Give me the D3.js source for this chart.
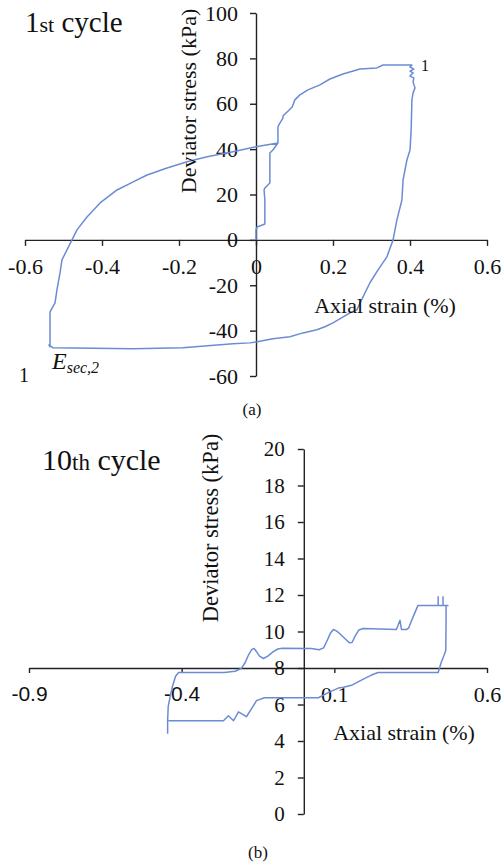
<!DOCTYPE html>
<html><head><meta charset="utf-8">
<script src="https://cdn.jsdelivr.net/npm/d3@7"></script>
<style>
body{margin:0;background:#fff}
svg{display:block}
text{font-family:"Liberation Serif","Times New Roman",serif;fill:#111}
</style>
</head><body>
<svg id="chart" width="503" height="866"></svg>
<script>
// ---------- Data: 1st cycle ----------
const c1Strain = [0, 0, 0.003, 0.023, 0.023, 0.021, 0.023, 0.036, 0.036, 0.044, 0.057, 0.057, 0.062, 0.070, 0.070, 0.094, 0.101, 0.114, 0.135, 0.166, 0.192, 0.226, 0.270, 0.314, 0.330, 0.392, 0.405, 0.400, 0.410, 0.400, 0.408, 0.400, 0.410, 0.408, 0.413, 0.408, 0.405, 0.403, 0.400, 0.392, 0.382, 0.379, 0.366, 0.356, 0.340, 0.317, 0.296, 0.278, 0.262, 0.244, 0.200, 0.179, 0.158, 0.122, 0.088, 0.044, 0.003, -0.016, -0.060, -0.190, -0.319, -0.527, -0.538, -0.535, -0.535, -0.522, -0.517, -0.509, -0.504, -0.491, -0.478, -0.465, -0.439, -0.405, -0.361, -0.319, -0.283, -0.231, -0.179, -0.127, -0.060, 0, 0.057];
const c1Stress = [0, 4.4, 5.7, 7.0, 17.6, 22.0, 22.9, 25.1, 38.3, 39.6, 42.7, 49.8, 51.5, 53.7, 54.6, 58.6, 61.7, 63.9, 66.1, 68.3, 70.9, 73.1, 75.3, 75.8, 77.1, 77.1, 77.1, 76.2, 75.3, 74.4, 73.6, 72.2, 71.4, 69.6, 67.0, 64.8, 61.7, 48.5, 39.6, 35.2, 26.4, 17.6, 8.8, 0, -7.5, -13.2, -18.9, -25.1, -30.8, -32.2, -36.6, -38.3, -39.6, -41.0, -42.7, -43.6, -44.9, -45.4, -45.8, -47.6, -48.0, -47.6, -46.3, -47.1, -31.7, -27.8, -22.0, -14.5, -8.8, -4.4, 0, 4.4, 10.1, 16.3, 22.0, 25.6, 28.6, 31.7, 34.4, 36.6, 38.8, 41.0, 42.7];
const c1XTicks = [-0.6, -0.4, -0.2, 0, 0.2, 0.4, 0.6];
const c1YTicks = [-60, -40, -20, 0, 20, 40, 60, 80, 100];

// ---------- Data: 10th cycle ----------
const c10Strain = [-0.446, -0.446, -0.444, -0.438, -0.430, -0.420, -0.410, -0.330, -0.260, -0.225, -0.205, -0.192, -0.180, -0.170, -0.163, -0.155, -0.145, -0.132, -0.118, -0.100, -0.085, -0.070, 0.025, 0.050, 0.065, 0.075, 0.087, 0.097, 0.108, 0.120, 0.135, 0.150, 0.158, 0.168, 0.180, 0.195, 0.303, 0.309, 0.315, 0.318, 0.320, 0.336, 0.343, 0.358, 0.374, 0.440, 0.440, 0.440, 0.456, 0.456, 0.456, 0.472, 0.466, 0.466, 0.465, 0.459, 0.450, 0.440, 0.263, 0.243, 0.220, 0.198, 0.156, 0.130, 0.113, 0.080, 0.048, -0.008, -0.129, -0.155, -0.171, -0.188, -0.214, -0.230, -0.247, -0.263, -0.279, -0.443];
const c10Stress = [4.40, 5.11, 5.90, 6.40, 7.00, 7.55, 7.75, 7.75, 7.75, 7.82, 7.97, 8.30, 8.75, 9.02, 9.07, 8.90, 8.65, 8.52, 8.65, 8.90, 9.04, 9.08, 9.07, 9.00, 9.10, 9.45, 9.90, 10.11, 10.02, 9.85, 9.60, 9.38, 9.40, 9.75, 10.08, 10.16, 10.11, 10.35, 10.62, 10.30, 10.11, 10.11, 10.18, 10.80, 11.43, 11.43, 11.90, 11.43, 11.43, 11.90, 11.43, 11.43, 11.43, 10.60, 8.96, 8.68, 8.30, 7.75, 7.75, 7.75, 7.60, 7.42, 7.05, 6.95, 6.90, 6.65, 6.37, 6.37, 6.37, 6.21, 5.77, 5.33, 5.60, 5.11, 5.38, 5.11, 5.11, 5.11];
const c10XTicks = [-0.9, -0.4, 0.1, 0.6];
const c10YTicks = [0, 2, 4, 6, 8, 10, 12, 14, 16, 18, 20];

const LINE = "#6b8cd4";
const AX = "#222";
const svg = d3.select("#chart");

function styleAxis(g, size, family) {
  g.attr("font-family", null).attr("font-size", null);
  g.selectAll(".domain").attr("stroke", AX).attr("stroke-width", 1.4);
  g.selectAll(".tick line").attr("stroke", AX).attr("stroke-width", 1.4);
  g.selectAll(".tick text").style("font-size", size + "px")
    .style("font-family", family || '"Liberation Serif","Times New Roman",serif')
    .attr("fill", "#111");
}

// ================= Panel (a) =================
const xA = d3.scaleLinear().domain([-0.6, 0.6]).range([25, 487]);
const yA = d3.scaleLinear().domain([-60, 100]).range([376, 13]);
const gA = svg.append("g");

const xAxA = gA.append("g").attr("transform", `translate(0,${yA(0)})`)
  .call(d3.axisBottom(xA).tickValues(c1XTicks).tickFormat(d => String(d))
    .tickSizeInner(6).tickSizeOuter(0).tickPadding(13));
styleAxis(xAxA, 22);
const yAxA = gA.append("g").attr("transform", `translate(${xA(0)},0)`)
  .call(d3.axisLeft(yA).tickValues(c1YTicks).tickFormat(d => String(d))
    .tickSizeInner(6).tickSizeOuter(0).tickPadding(12));
styleAxis(yAxA, 22);

const lineA = d3.line().x(d => xA(d[0])).y(d => yA(d[1]));
gA.append("path").datum(d3.zip(c1Strain, c1Stress))
  .attr("d", lineA).attr("fill", "none").attr("stroke", LINE)
  .attr("stroke-width", 1.5).attr("stroke-linejoin", "round");

gA.append("text").attr("x", 385).attr("y", 313).attr("text-anchor", "middle")
  .style("font-size", "22px").text("Axial strain (%)");
gA.append("text").attr("transform", "translate(196,101) rotate(-90)")
  .attr("text-anchor", "middle").style("font-size", "22px").text("Deviator stress (kPa)");

const tA = gA.append("text").attr("x", 25).attr("y", 32);
tA.append("tspan").style("font-size", "29px").text("1");
tA.append("tspan").style("font-size", "22px").text("st");
tA.append("tspan").style("font-size", "29px").text(" cycle");

gA.append("text").attr("x", 421).attr("y", 71).style("font-size", "16px").text("1");
gA.append("text").attr("x", 19).attr("y", 382).style("font-size", "20px").text("1");
const eA = gA.append("text").attr("x", 52).attr("y", 369).style("font-style", "italic");
eA.append("tspan").style("font-size", "24px").text("E");
eA.append("tspan").style("font-size", "16px").attr("dy", 4).text("sec,2");

gA.append("text").attr("x", 252).attr("y", 415).attr("text-anchor", "middle")
  .style("font-size", "17px").text("(a)");

// ================= Panel (b) =================
const xB = d3.scaleLinear().domain([-0.9, 0.6]).range([29, 487]);
const yB = d3.scaleLinear().domain([0, 20]).range([814, 449]);
const gB = svg.append("g");

const xAxB = gB.append("g").attr("transform", `translate(0,${yB(8)})`)
  .call(d3.axisBottom(xB).tickValues(c10XTicks).tickFormat(d => String(d))
    .tickSizeInner(5).tickSizeOuter(0).tickPadding(13));
styleAxis(xAxB, 22);
xAxB.selectAll(".tick text").filter(d => d < 0)
  .style("font-family", '"Liberation Sans",Arial,sans-serif').style("font-size", "21px");
const yAxB = gB.append("g").attr("transform", `translate(${xB(0)},0)`)
  .call(d3.axisLeft(yB).tickValues(c10YTicks).tickFormat(d => String(d))
    .tickSizeInner(6).tickSizeOuter(0).tickPadding(13));
styleAxis(yAxB, 21);

const lineB = d3.line().x(d => xB(d[0])).y(d => yB(d[1]));
gB.append("path").datum(d3.zip(c10Strain, c10Stress))
  .attr("d", lineB).attr("fill", "none").attr("stroke", LINE)
  .attr("stroke-width", 1.5).attr("stroke-linejoin", "round");

gB.append("text").attr("x", 404).attr("y", 740).attr("text-anchor", "middle")
  .style("font-size", "22px").text("Axial strain (%)");
gB.append("text").attr("transform", "translate(218,528) rotate(-90)")
  .attr("text-anchor", "middle").style("font-size", "22.5px").text("Deviator stress (kPa)");

const tB = gB.append("text").attr("x", 42).attr("y", 470);
tB.append("tspan").style("font-size", "30px").text("10");
tB.append("tspan").style("font-size", "23px").text("th");
tB.append("tspan").style("font-size", "30px").text(" cycle");

gB.append("text").attr("x", 258).attr("y", 858).attr("text-anchor", "middle")
  .style("font-size", "17px").text("(b)");
</script>
</body></html>
